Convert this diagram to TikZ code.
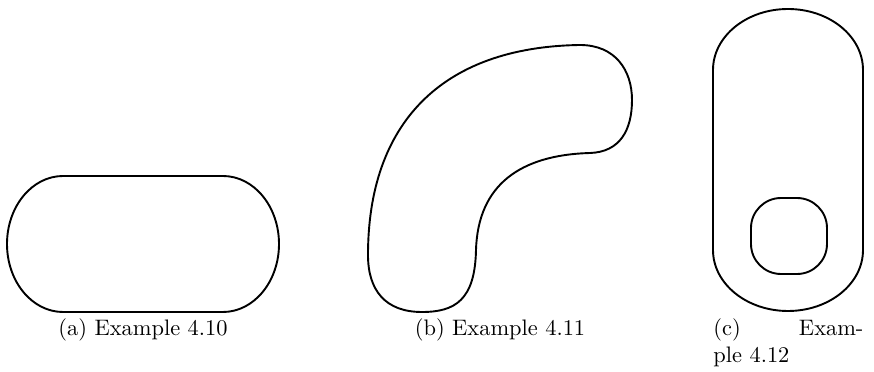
\documentclass[tikz,border=0pt]{standalone}
\begin{document}
\begin{tikzpicture}[x=0.446pt,y=-0.446pt,
  outline/.style={line width=0.85pt, line join=round},
  caption/.style={inner sep=0pt, anchor=base}]
\useasboundingbox (0,0) rectangle (874,372);
% (a)
\draw[outline] (63,176) -- (223,176)
  arc[start angle=-90, end angle=90, x radius=56, y radius=68]
  -- (63,312)
  arc[start angle=90, end angle=270, x radius=56, y radius=68] -- cycle;
\node[caption] (capa) at (143,336) {(a) Example 4.10};
% (b)
\draw[outline] (580,45) .. controls (615,45) and (632,70) .. (632,100)
  .. controls (632,130) and (620,152) .. (590,153)
  .. controls (520,155) and (478,185) .. (476,250)
  .. controls (475,300) and (455,312) .. (422,312)
  .. controls (385,312) and (368,290) .. (368,255)
  .. controls (368,125) and (440,47) .. (580,45) -- cycle;
\node[caption] (capb) at (500,336) {(b) Example 4.11};
% (c)
\draw[outline] (713,70) -- (713,250)
  arc[start angle=180, end angle=0, x radius=75, y radius=61]
  -- (863,70)
  arc[start angle=0, end angle=-180, x radius=75, y radius=61] -- cycle;
\draw[outline, rounded corners=13.4pt] (751,198) rectangle (827,274);
\node[caption, anchor=base west] (capc1) at (713,336) {\makebox[66.9pt]{(c)\hfill Exam-}};
\node[caption, anchor=base west] (capc2) at (713,363) {ple 4.12};
\end{tikzpicture}
\end{document}
